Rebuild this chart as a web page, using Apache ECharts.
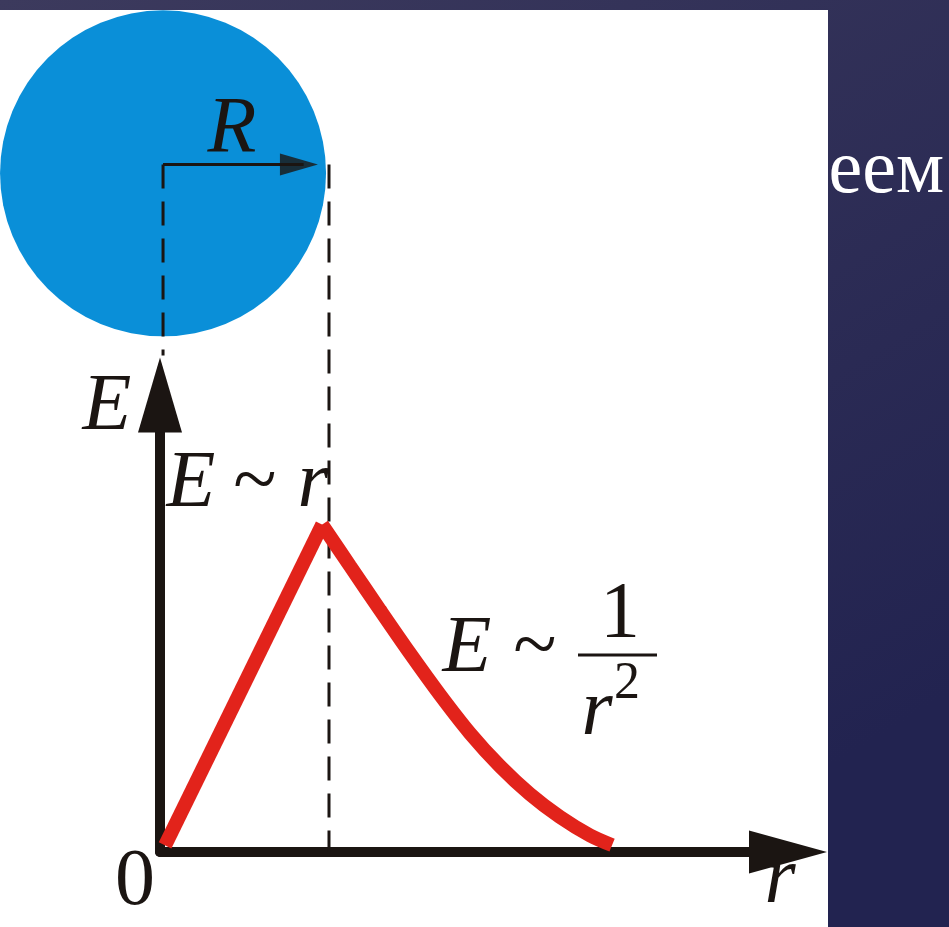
<!DOCTYPE html>
<html>
<head>
<meta charset="utf-8">
<script src="https://cdn.jsdelivr.net/npm/echarts@6/dist/echarts.min.js"></script>
<style>
  html, body { margin: 0; padding: 0; }
  #chart { width: 949px; height: 927px; }
</style>
</head>
<body>
<div id="chart"></div>
<script>
// r in units of R, E in units of E(R)
const riseR = [0.03, 0.96];
const riseE = [0.02, 1.0];
const decayR = [0.959, 1.124, 1.302, 1.479, 1.657, 1.834, 2.012, 2.189, 2.367, 2.544, 2.675];
const decayE = [1.0, 0.874, 0.739, 0.607, 0.480, 0.363, 0.262, 0.177, 0.107, 0.051, 0.021];

// sphere sketch above the graph (same r scale)
const sphereCenter = [0.018, 2.073];
const radiusY = 2.10;
const radiusLine = [[0.018, radiusY], [0.85, radiusY]];
const radiusHead = [0.822, radiusY];
const dashLeft = [[0.018, radiusY], [0.018, 1.517]];
const dashRight = [[1, radiusY], [1, 0]];

const zip = (a, b) => a.map((v, i) => [v, b[i]]);

const ink = '#1b1512';
const red = '#e2231b';
const serifFamily = '"Liberation Serif", "DejaVu Serif", serif';

function txt(text, x, y, size, italic, align) {
  return {
    type: 'text', z: 10, silent: true,
    style: {
      text: text, x: x, y: y,
      fontFamily: serifFamily, fontSize: size, fontStyle: italic ? 'italic' : 'normal',
      fill: ink,
      textAlign: align || 'center', align: align || 'center',
      textVerticalAlign: 'middle', verticalAlign: 'middle'
    }
  };
}

const chart = echarts.init(document.getElementById('chart'));

chart.setOption({
  animation: false,
  backgroundColor: {
    type: 'linear', x: 0, y: 0, x2: 0.6, y2: 1,
    colorStops: [
      { offset: 0, color: '#3c3a5d' },
      { offset: 1, color: '#222350' }
    ]
  },
  grid: { left: 160, right: 161, top: 395, bottom: 75 },
  xAxis: {
    type: 'value', min: 0, max: 3.716,
    axisLine: {
      onZero: false,
      symbol: ['none', 'triangle'], symbolSize: [43, 78],
      lineStyle: { color: ink, width: 10 }
    },
    axisTick: { show: false }, axisLabel: { show: false }, splitLine: { show: false }
  },
  yAxis: {
    type: 'value', min: 0, max: 1.396,
    axisLine: {
      onZero: false,
      symbol: ['none', 'triangle'], symbolSize: [44, 75],
      lineStyle: { color: ink, width: 10 }
    },
    axisTick: { show: false }, axisLabel: { show: false }, splitLine: { show: false }
  },
  graphic: [
    {
      type: 'text', z: -20, silent: true,
      style: {
        text: 'еем', x: 944, y: 172,
        fontFamily: serifFamily, fontSize: 76,
        fill: '#ffffff',
        textAlign: 'right', align: 'right', textVerticalAlign: 'middle', verticalAlign: 'middle'
      }
    },
    { type: 'rect', z: -10, silent: true, shape: { x: 0, y: 10, width: 828, height: 917 }, style: { fill: '#ffffff' } },
    txt('R', 232, 131, 80, true),
    txt('E', 107, 408, 80, true),
    txt('E', 191, 485, 80, true),
    txt('~', 255, 485, 80, false),
    txt('r', 313, 485, 80, true),
    txt('E', 467, 650, 80, true),
    txt('~', 535, 650, 80, false),
    txt('1', 620, 616, 80, false),
    { type: 'line', z: 10, silent: true, shape: { x1: 578, y1: 655, x2: 657, y2: 655 }, style: { stroke: ink, lineWidth: 3 } },
    txt('r', 597, 713, 80, true),
    txt('2', 614, 684, 52, false, 'left'),
    txt('0', 135, 883, 80, false),
    txt('r', 780, 881, 80, true)
  ],
  series: [
    {
      name: 'sphere', type: 'scatter', z: 1, clip: false, silent: true,
      data: [sphereCenter], symbol: 'circle', symbolSize: 326,
      itemStyle: { color: '#0a8fd8', opacity: 1 }
    },
    {
      name: 'radius', type: 'line', z: 3, clip: false, silent: true,
      data: radiusLine, symbol: 'none',
      lineStyle: { color: ink, width: 3 }
    },
    {
      name: 'radiusHead', type: 'scatter', z: 3, clip: false, silent: true,
      data: [radiusHead], symbol: 'triangle', symbolRotate: -90, symbolSize: [22, 38],
      itemStyle: { color: ink }
    },
    {
      name: 'dashLeft', type: 'line', z: 3, clip: false, silent: true,
      data: dashLeft, symbol: 'none',
      lineStyle: { color: ink, width: 3, type: [24, 13] }
    },
    {
      name: 'dashRight', type: 'line', z: 3, clip: false, silent: true,
      data: dashRight, symbol: 'none',
      lineStyle: { color: ink, width: 3, type: [24, 13] }
    },
    {
      name: 'inside', type: 'line', z: 5, silent: true,
      data: zip(riseR, riseE), symbol: 'none',
      lineStyle: { color: red, width: 14, cap: 'butt' }
    },
    {
      name: 'outside', type: 'line', z: 5, silent: true, smooth: 0.3,
      data: zip(decayR, decayE), symbol: 'none',
      lineStyle: { color: red, width: 14, cap: 'butt' }
    }
  ]
});
</script>
</body>
</html>
